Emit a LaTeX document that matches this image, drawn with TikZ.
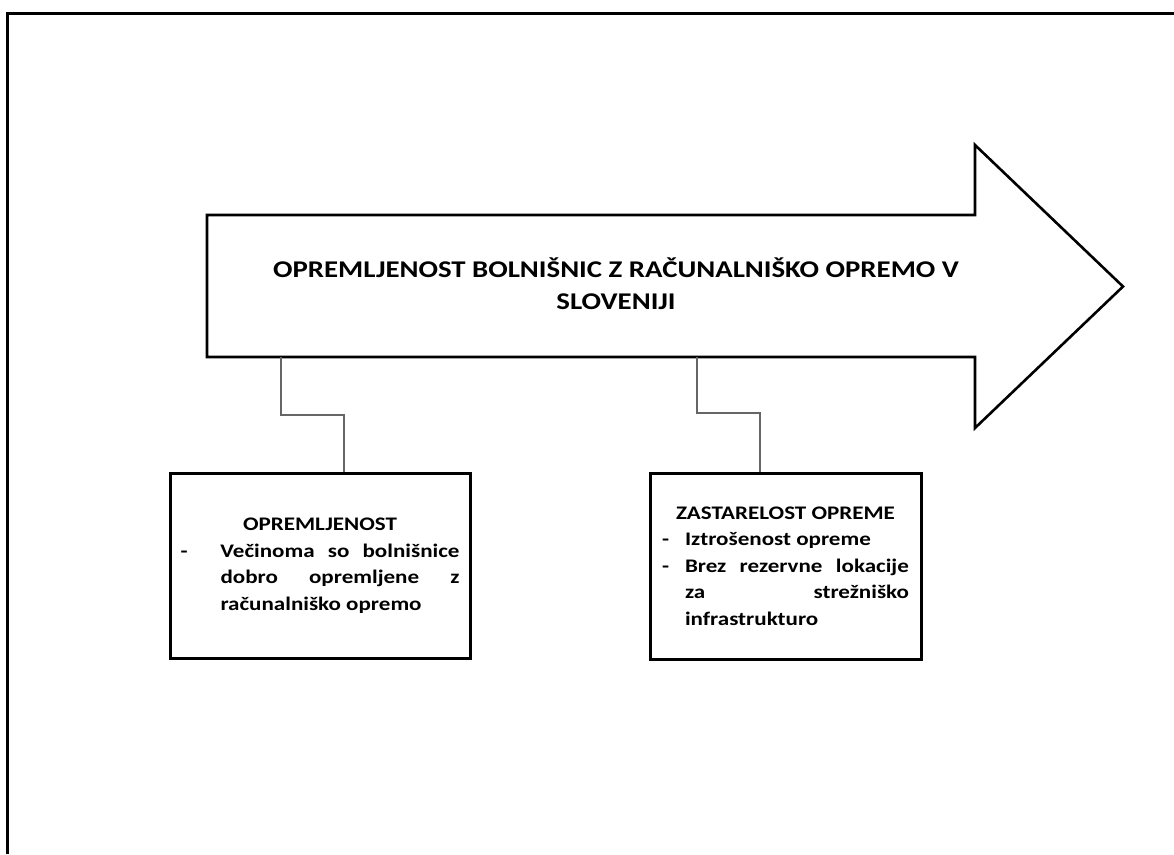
\documentclass[tikz,border=0pt]{standalone}
\usepackage{fontspec}
\setmainfont{Carlito}[FakeStretch=1.2]
\begin{document}
\begin{tikzpicture}[x=1pt,y=-1pt,
  frameline/.style={line width=3pt},
  bigarrow/.style={draw, line width=2.6pt, line join=miter, fill=white},
  titletext/.style={align=center, inner sep=0pt,
    font=\fontsize{24}{32}\selectfont\bfseries},
  infobox/.style={draw, line width=3pt, rectangle, align=center, inner sep=0pt,
    font=\fontsize{19.2}{26.5}\selectfont\bfseries},
  link/.style={draw=black!60, line width=1.2pt}]
\useasboundingbox (0,0) rectangle (1174,854);

% outer frame (top and left edges)
\draw[frameline] (7.5,854) -- (7.5,13.5) -- (1174,13.5);

% main arrow
\draw[bigarrow] (207,215) -- (975,215) -- (975,145) -- (1123,286.5)
  -- (975,428) -- (975,357) -- (207,357) -- cycle;
\node[titletext] (title) at (616,284)
  {OPREMLJENOST BOLNIŠNIC Z RAČUNALNIŠKO OPREMO V\\SLOVENIJI};

% connection points on the lower edge of the arrow
\coordinate (a1) at (281,357);
\coordinate (a2) at (697,357);
\coordinate (k1) at (344,415);
\coordinate (k2) at (760,413);

% left box
\node[infobox, minimum width=300pt, minimum height=185pt] (opr) at (320,565.5)
  {OPREMLJENOST\\
   \makebox[279pt][l]{\makebox[40pt][l]{-}\makebox[239pt][s]{Večinoma so bolnišnice}}\\
   \makebox[279pt][l]{\hspace*{40pt}\makebox[239pt][s]{dobro opremljene z}}\\
   \makebox[279pt][l]{\hspace*{40pt}računalniško opremo}};

% right box
\node[infobox, minimum width=271pt, minimum height=186pt] (zas) at (785.5,566)
  {ZASTARELOST OPREME\\
   \makebox[247pt][l]{\makebox[23pt][l]{-}Iztrošenost opreme}\\
   \makebox[247pt][l]{\makebox[23pt][l]{-}\makebox[224pt][s]{Brez rezervne lokacije}}\\
   \makebox[247pt][l]{\hspace*{23pt}\makebox[224pt][s]{za strežniško}}\\
   \makebox[247pt][l]{\hspace*{23pt}infrastrukturo}};

% connectors
\draw[link] (a1) |- (k1) -- (k1 |- opr.north);
\draw[link] (a2) |- (k2) -- (k2 |- zas.north);
\end{tikzpicture}
\end{document}
